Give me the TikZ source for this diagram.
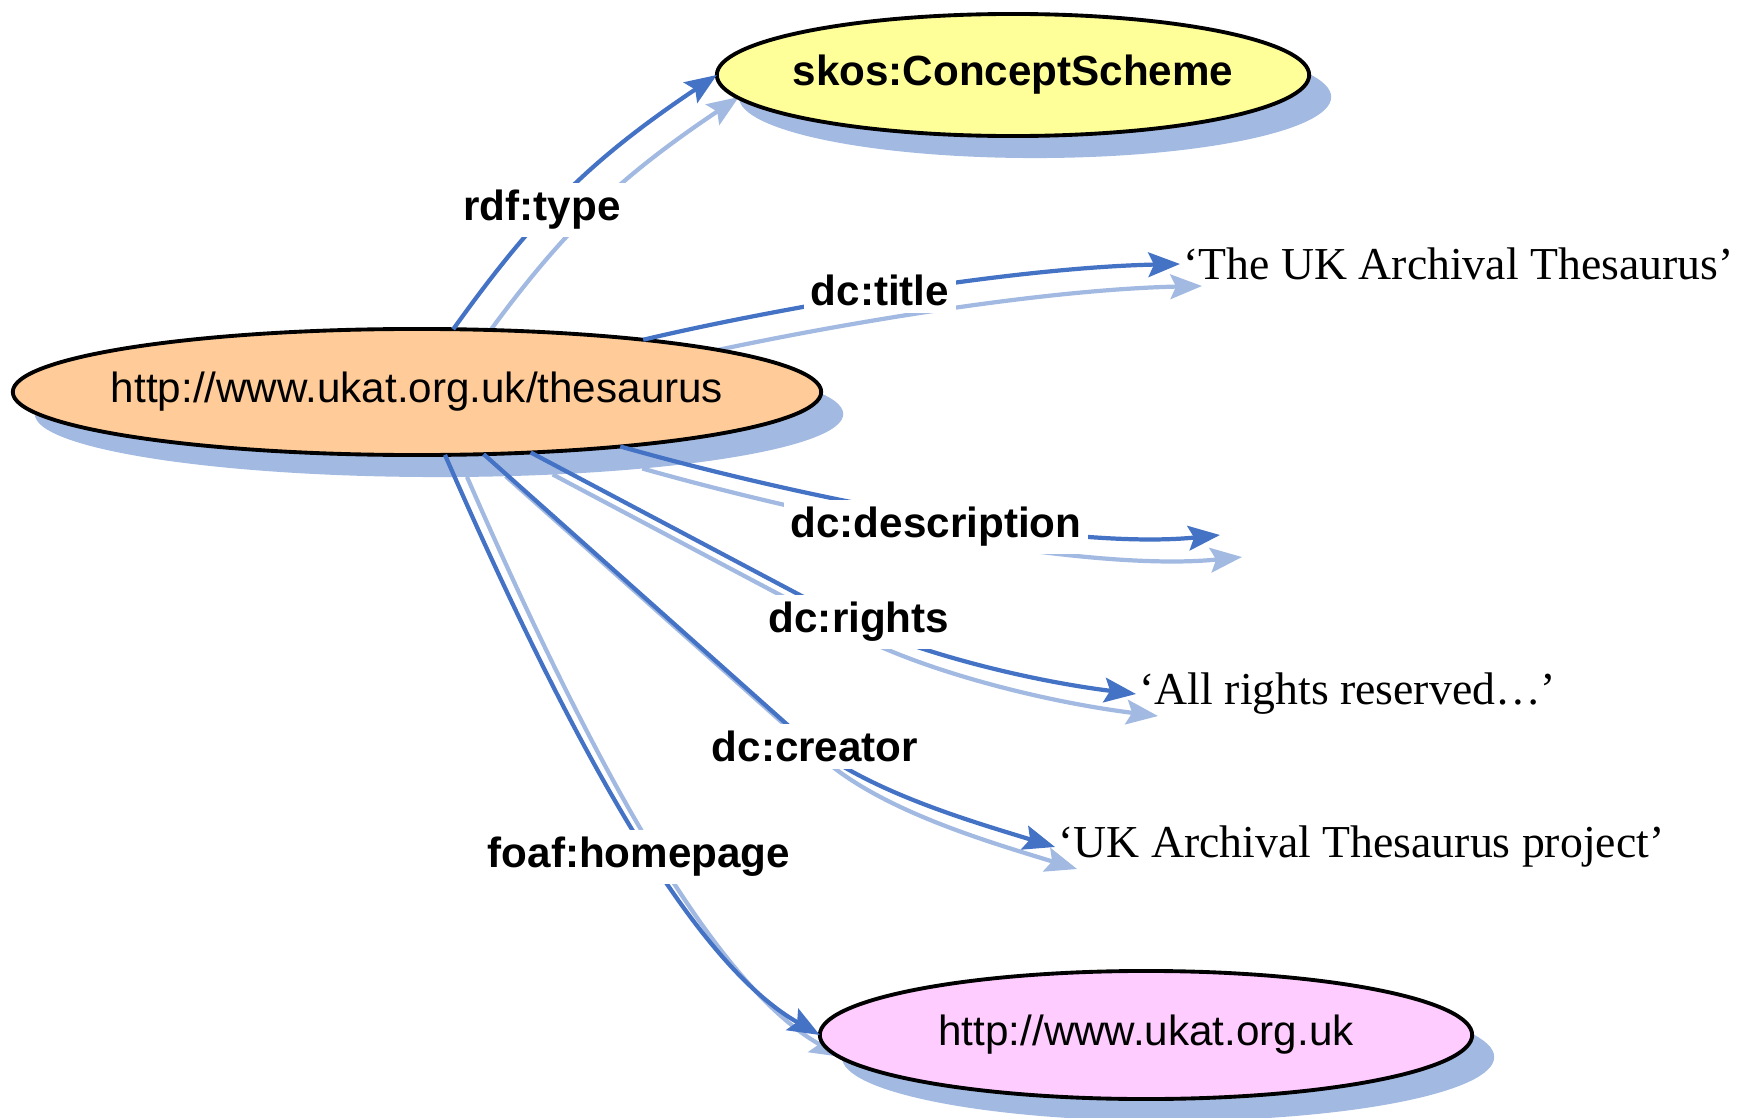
\documentclass[tikz,border=0pt]{standalone}
\usepackage{fontspec}
\setmainfont{Liberation Serif}
\setsansfont{Liberation Sans}
\usetikzlibrary{arrows.meta,shadows,shapes.geometric}
\definecolor{edgeblue}{RGB}{68,114,196}
\definecolor{shadeblue}{RGB}{162,186,226}
\definecolor{nodeorange}{RGB}{255,204,153}
\definecolor{nodeyellow}{RGB}{255,255,153}
\definecolor{nodepink}{RGB}{255,204,255}
\pgfdeclarelayer{bg}
\pgfsetlayers{bg,main}
\newcommand\ctext[1]{\makebox[0pt]{#1}}
\begin{document}
\begin{tikzpicture}[x=0.01cm,y=-0.01cm,
  res/.style={ellipse, draw=black, line width=1.1pt, inner sep=0pt, outer sep=0pt,
    font=\sffamily\fontsize{12}{14}\selectfont,
    drop shadow={shadow xshift=0.22cm, shadow yshift=-0.22cm, fill=shadeblue, opacity=1}},
  lit/.style={anchor=west, inner sep=0.03cm, font=\rmfamily\fontsize{13}{15}\selectfont},
  prop/.style={fill=white, inner sep=0.07cm, font=\sffamily\bfseries\fontsize{12}{14}\selectfont},
  tipA/.style={-{Stealth[length=9pt,width=7pt,inset=1.6pt]}},
  rel/.style={draw=edgeblue, line width=1.2pt, tipA},
  relshadow/.style={draw=shadeblue, line width=1.2pt, tipA,
    transform canvas={shift={(0.22cm,-0.22cm)}}},
]
\useasboundingbox (0,0) rectangle (1750,1118);
\begin{pgfonlayer}{bg}
  \fill[white] (0,0) rectangle (1750,1118);
\end{pgfonlayer}

% resource nodes
\node[res, fill=nodeorange, minimum width=8.08cm, minimum height=1.26cm] (s) at (417,392) {\ctext{http://www.ukat.org.uk/thesaurus}};
\node[res, fill=nodeyellow, minimum width=5.92cm, minimum height=1.22cm, font=\sffamily\bfseries\fontsize{12}{14}\selectfont] (cs) at (1013,75) {\ctext{skos:ConceptScheme}};
\node[res, fill=nodepink, minimum width=6.52cm, minimum height=1.28cm] (hp) at (1146,1035) {\ctext{http://www.ukat.org.uk}};

% literal nodes
\node[lit] (t1) at (1180,264) {`The UK Archival Thesaurus'};
\node[lit] (t2) at (1136,694) {`All rights reserved\dots'};
\node[lit] (t3) at (1055,847) {`UK Archival Thesaurus project'};
\coordinate (dend) at (1220,535);

% edge shadows
\begin{pgfonlayer}{bg}
  \draw[relshadow] (s.60) .. controls (535,215) and (590,160) .. (cs.west);
  \draw[relshadow] (s.13) .. controls (760,312) and (1000,268) .. (t1.west);
  \draw[relshadow] (s.345) .. controls (817,502) and (1070,550) .. (dend);
  \draw[relshadow] (s.332) -- (830,611) .. controls (901,649) and (1023,680) .. (t2.west);
  \draw[relshadow] (s.317) -- (800,736) .. controls (860,789) and (967,820) .. (t3.west);
  \draw[relshadow] (s.294) .. controls (594,797) and (707,971) .. (hp.west);
\end{pgfonlayer}

% edges
\draw[rel] (s.60) .. controls (535,215) and (590,160) .. (cs.west);
\draw[rel] (s.13) .. controls (760,312) and (1000,268) .. (t1.west);
\draw[rel] (s.345) .. controls (817,502) and (1070,550) .. (dend);
\draw[rel] (s.332) -- (830,611) .. controls (901,649) and (1023,680) .. (t2.west);
\draw[rel] (s.317) -- (800,736) .. controls (860,789) and (967,820) .. (t3.west);
\draw[rel] (s.294) .. controls (594,797) and (707,971) .. (hp.west);

% edge labels
\node[prop] (ltype) at (542,210) {rdf:type};
\node[prop] (ltitle) at (880,290) {dc:title};
\node[prop] (ldesc) at (936,527) {dc:description};
\node[prop] (lrights) at (859,622) {dc:rights};
\node[prop] (lcreator) at (815,746) {dc:creator};
\node[prop] (lhome) at (639,857) {foaf:homepage};
\end{tikzpicture}
\end{document}
